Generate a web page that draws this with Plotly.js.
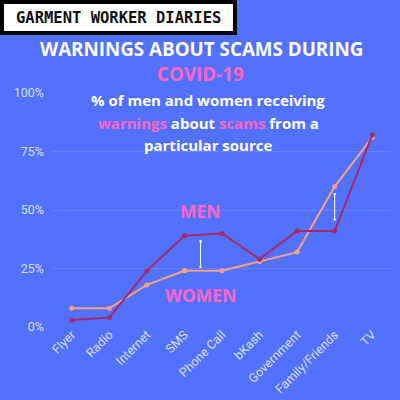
<!DOCTYPE html>
<html>
<head>
<meta charset="utf-8">
<script src="https://cdn.plot.ly/plotly-3.0.1.min.js"></script>
<style>
  html, body { margin: 0; padding: 0; background: #5271ff; }
  #chart { width: 400px; height: 400px; }
</style>
</head>
<body>
<div id="chart"></div>
<script>
// Sources of warnings about scams
const sources = ["Flyer", "Radio", "Internet", "SMS", "Phone Call", "bKash", "Government", "Family/Friends", "TV"];
// Share (%) of respondents who received a warning from each source
const menPct = [3, 4, 24, 39, 40, 29, 41, 41, 82];
const womenPct = [8, 8, 18, 24, 24, 28, 32, 60, 81];
// Y axis ticks
const yTickVals = [0, 25, 50, 75, 100];
const yTickText = ["0%", "25%", "50%", "75%", "100%"];
// Gap markers: [category position, lower %, upper %]
const gapSMS = [3.43, 25.7, 37.3];
const gapFamily = [7.0, 45.9, 57.4];

const W = 400, H = 400;
const M = { l: 53, r: 9, t: 93, b: 73 };
const plotW = W - M.l - M.r, plotH = H - M.t - M.b;
// pixel -> paper helpers for text placed around the plot
const px = x => (x - M.l) / plotW;
const py = y => (H - M.b - y) / plotH;

const PINK = "#ff66c4";
const MEN_C = "#a8276b";
const WOMEN_C = "#f5a088";

const traces = [
  {
    x: sources, y: womenPct, name: "Women", type: "scatter", mode: "lines+markers",
    line: { color: WOMEN_C, width: 2 }, marker: { color: WOMEN_C, size: 5 },
    cliponaxis: false, hoverinfo: "skip"
  },
  {
    x: sources, y: menPct, name: "Men", type: "scatter", mode: "lines+markers",
    line: { color: MEN_C, width: 2 }, marker: { color: MEN_C, size: 5 },
    cliponaxis: false, hoverinfo: "skip"
  }
];

function gapArrow(g) {
  return {
    x: g[0], y: g[1], ax: g[0], ay: g[2], xref: "x", yref: "y", axref: "x", ayref: "y",
    text: "", showarrow: true, arrowhead: 6, startarrowhead: 6, arrowside: "end+start",
    arrowsize: 0.6, startarrowsize: 0.6, arrowwidth: 1, arrowcolor: "#ffffff"
  };
}

const titleFont = { family: "Open Sans", weight: 700, color: "#ffffff" };
const tickFont = { family: "Roboto", size: 12.5, color: "rgba(235,238,255,0.88)" };

const layout = {
  width: W, height: H,
  paper_bgcolor: "#5271ff", plot_bgcolor: "#5271ff",
  margin: M,
  showlegend: false,
  xaxis: {
    type: "category", range: [-0.5, 8.5], tickangle: -45, showgrid: false, zeroline: false,
    showline: false, ticks: "", ticklabelstandoff: -3, tickfont: tickFont
  },
  yaxis: {
    range: [0, 100], tickmode: "array", tickvals: yTickVals, ticktext: yTickText,
    showgrid: true, gridcolor: "rgba(255,255,255,0.13)", gridwidth: 1,
    zeroline: false, showline: false, ticks: "", ticklabelstandoff: 8,
    tickfont: tickFont
  },
  shapes: [
    {
      type: "rect", xref: "paper", yref: "paper",
      x0: px(2), x1: px(235), y0: py(2), y1: py(33),
      line: { color: "#000000", width: 4 }, fillcolor: "#ffffff", layer: "above"
    }
  ],
  annotations: [
    {
      xref: "paper", yref: "paper", x: px(118), y: py(18), xanchor: "center", yanchor: "middle",
      text: "GARMENT WORKER DIARIES", showarrow: false,
      font: { family: "DejaVu Sans Mono", weight: 700, size: 15.5, color: "#111111" }
    },
    {
      xref: "paper", yref: "paper", x: px(201), y: py(49), xanchor: "center", yanchor: "middle",
      text: "WARNINGS ABOUT SCAMS DURING", showarrow: false,
      font: Object.assign({}, titleFont, { size: 18.8 })
    },
    {
      xref: "paper", yref: "paper", x: px(200), y: py(74), xanchor: "center", yanchor: "middle",
      text: "COVID-19", showarrow: false,
      font: Object.assign({}, titleFont, { size: 18.8, color: PINK })
    },
    {
      xref: "paper", yref: "paper", x: px(208), y: py(100), xanchor: "center", yanchor: "middle",
      text: "% of men and women receiving", showarrow: false,
      font: Object.assign({}, titleFont, { size: 15 })
    },
    {
      xref: "paper", yref: "paper", x: px(208), y: py(123), xanchor: "center", yanchor: "middle",
      text: "<span style='color:" + PINK + "'>warnings</span> about <span style='color:" + PINK + "'>scams</span> from a",
      showarrow: false,
      font: Object.assign({}, titleFont, { size: 15 })
    },
    {
      xref: "paper", yref: "paper", x: px(208), y: py(145), xanchor: "center", yanchor: "middle",
      text: "particular source", showarrow: false,
      font: Object.assign({}, titleFont, { size: 15 })
    },
    {
      xref: "paper", yref: "paper", x: px(200), y: py(211), xanchor: "center", yanchor: "middle",
      text: "MEN", showarrow: false,
      font: Object.assign({}, titleFont, { size: 17.5, color: PINK })
    },
    {
      xref: "paper", yref: "paper", x: px(200), y: py(295), xanchor: "center", yanchor: "middle",
      text: "WOMEN", showarrow: false,
      font: Object.assign({}, titleFont, { size: 17.5, color: PINK })
    },
    gapArrow(gapSMS),
    gapArrow(gapFamily)
  ]
};

Plotly.newPlot("chart", traces, layout, { staticPlot: true, displayModeBar: false });
</script>
</body>
</html>
